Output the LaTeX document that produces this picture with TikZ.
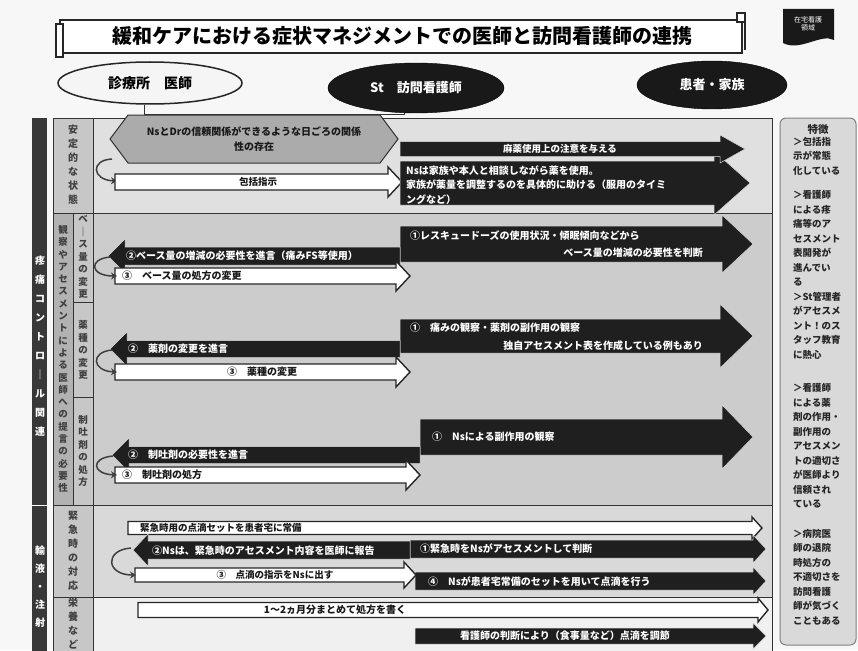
\documentclass[tikz,border=0pt]{standalone}
\usepackage{fontspec}
\setmainfont{Noto Sans CJK JP}
\usetikzlibrary{arrows.meta,shapes.geometric}
% right-pointing arrow: style, tail x, tip x, centre y, shaft half height, head half height, head length
\newcommand\RA[7]{\path[#1] (#2,{#4-#5}) -- ({#3-#7},{#4-#5}) -- ({#3-#7},{#4-#6}) -- (#3,#4) -- ({#3-#7},{#4+#6}) -- ({#3-#7},{#4+#5}) -- (#2,{#4+#5}) -- cycle;}
% left-pointing arrow
\newcommand\LA[7]{\path[#1] (#2,{#4-#5}) -- ({#3+#7},{#4-#5}) -- ({#3+#7},{#4-#6}) -- (#3,#4) -- ({#3+#7},{#4+#6}) -- ({#3+#7},{#4+#5}) -- (#2,{#4+#5}) -- cycle;}
% vertical text
\def\vt#1{\vtA#1\relax}
\def\vtA#1{#1\vtB}
\def\vtB#1{\ifx#1\relax\else\\#1\expandafter\vtB\fi}
\begin{document}
\begin{tikzpicture}[x=1pt,y=-1pt,
  blk/.style={fill=black!88, draw=black!15, line width=0.5pt},
  wht/.style={fill=white, draw=black!85, line width=1.4pt},
  hexs/.style={fill=black!33, draw=black!80, line width=1pt},
  grid/.style={draw=black!80, line width=0.8pt},
  wtxt/.style={text=white, inner sep=0pt, font=\fontsize{10}{14}\selectfont\bfseries},
  btxt/.style={text=black!90, inner sep=0pt, font=\fontsize{10}{14}\selectfont\bfseries},
  vlab/.style={inner sep=0pt, align=center, text=black!75},
  loopst/.style={draw=black!75, line width=1.5pt, -{Stealth[length=6pt,width=7pt]}},
  ovw/.style={ellipse, draw=black!85, line width=1.5pt, fill=black!4, inner sep=0pt, font=\fontsize{14}{16}\selectfont\bfseries},
  ovb/.style={ellipse, draw=black, fill=black!90, text=white, inner sep=0pt, font=\fontsize{13}{15}\selectfont\bfseries}
]
\useasboundingbox (0,0) rectangle (858,650);
\fill[black!3] (0,0) rectangle (858,650);

% ---------- title ----------
\path[fill=white, draw=black!85, line width=1.3pt] (60,20) rectangle (742,53);
\path[fill=white, draw=black!85, line width=1.1pt] (56,24) rectangle (63,57);
\path[fill=white, draw=black!85, line width=1.1pt] (737,13) rectangle (745,22);
\draw[black!85, line width=1.1pt] (745,22) -- (745,50);
\node[inner sep=0pt, font=\fontsize{20}{22}\selectfont\bfseries] (title) at (402,36) {緩和ケアにおける症状マネジメントでの医師と訪問看護師の連携};

% badge
\path[fill=black!90] (783,9) -- (834,9) -- (834,40) .. controls (821,33) and (800,52) .. (783,43) -- cycle;
\node[inner sep=0pt, align=center, text=white, font=\fontsize{7}{8.5}\selectfont] (badge) at (808,24) {在宅看護\\領域};

% ---------- table backgrounds ----------
\fill[black!12] (93,118) rectangle (772,213);
\fill[black!20] (93,213) rectangle (772,505);
\fill[black!15] (93,505) rectangle (772,597);
\fill[black!6] (93,597) rectangle (772,652);
\fill[black!22] (53,118) rectangle (93,652);
\fill[black!30] (53,213) rectangle (73,505);
\fill[black!78] (32,118) rectangle (47,652);
\draw[white, line width=1pt] (32,505) -- (47,505);

\draw[grid] (53,118) rectangle (772,656);
\draw[grid] (93,118) -- (93,656);
\draw[grid] (53,213) -- (772,213);
\draw[grid] (53,505) -- (772,505);
\draw[grid] (53,597) -- (772,597);
\draw[grid] (73,213) -- (73,505);
\draw[grid] (73,302) -- (93,302);
\draw[grid] (73,397) -- (93,397);

% ---------- left labels ----------
\node[vlab, text=white, font=\fontsize{10}{19}\selectfont\bfseries] (cat1) at (40,346) {\vt{疼痛コントロ｜ル関連}};
\node[vlab, text=white, font=\fontsize{10}{18}\selectfont\bfseries] (cat2) at (40,587) {\vt{輸液・注射}};
\node[vlab, font=\fontsize{10}{14}\selectfont\bfseries] (lab1) at (73,165) {\vt{安定的な状態}};
\node[vlab, font=\fontsize{9.5}{12.3}\selectfont\bfseries] (labout) at (63,359) {\vt{観察やアセスメントによる医師への提言の必要性}};
\node[vlab, font=\fontsize{9.5}{12.5}\selectfont\bfseries] (lab2) at (83,257) {\vt{ベ｜ス量の変更}};
\node[vlab, font=\fontsize{9.5}{12.5}\selectfont\bfseries] (lab3) at (83,350) {\vt{薬種の変更}};
\node[vlab, font=\fontsize{9.5}{12.5}\selectfont\bfseries] (lab4) at (83,451) {\vt{制吐剤の処方}};
\node[vlab, font=\fontsize{10}{14}\selectfont\bfseries] (lab5) at (73,551) {\vt{緊急時の対応}};
\node[vlab, font=\fontsize{10}{14}\selectfont\bfseries] (lab6) at (73,624) {\vt{栄養など}};

% ---------- actors ----------
\node[ovw, minimum width=184pt, minimum height=42pt] (dr) at (150,83) {診療所　医師};
\node[ovb, minimum width=176pt, minimum height=50pt] (ns) at (416,88) {St　訪問看護師};
\node[ovb, minimum width=150pt, minimum height=48pt] (pt) at (712,85) {患者・家族};
\draw[black!80, line width=0.8pt] (dr.256) -- ++(0,10) -| (ns.245);

% ---------- row 1 ----------
\path[hexs] (110,139) -- (128,115) -- (380,115) -- (398,139) -- (380,163) -- (128,163) -- cycle;
\node[btxt, align=center, font=\fontsize{10}{15}\selectfont\bfseries] (t1a) at (254,139) {NsとDrの信頼関係ができるような日ごろの関係\\性の存在};
\draw[loopst] (112,159) .. controls (90,160) and (92,180) .. (117,181);
\RA{wht}{115}{402}{182}{8}{15}{14}
\node[btxt, font=\fontsize{9.5}{12}\selectfont\bfseries] (t1b) at (258,182) {包括指示};
\RA{blk}{400}{750}{183}{22}{32}{36}
\RA{blk}{400}{745}{149}{7.5}{14}{25}
\node[wtxt, font=\fontsize{9.5}{12}\selectfont\bfseries] (t1c) at (560,149) {麻薬使用上の注意を与える};
\node[wtxt, anchor=west, align=left, font=\fontsize{10}{14.5}\selectfont\bfseries] (t1d) at (406,185) {Nsは家族や本人と相談しながら薬を使用。\\家族が薬量を調整するのを具体的に助ける（服用のタイミ\\ングなど）};

% ---------- row 2 ----------
\RA{blk}{400}{753}{244}{18}{29}{31}
\LA{blk}{400}{108}{256}{9}{17}{17}
\RA{wht}{115}{410}{276}{8}{15}{14}
\draw[loopst] (110,257) .. controls (88,259) and (90,276) .. (117,276);
\node[wtxt, anchor=west] (t2a) at (410,236) {①レスキュードーズの使用状況・傾眠傾向などから};
\node[wtxt, anchor=east] (t2b) at (703,253) {ベース量の増減の必要性を判断};
\node[wtxt, anchor=west] (t2c) at (126,256) {②ベース量の増減の必要性を進言（痛みFS等使用）};
\node[btxt, anchor=west] (t2d) at (122,276) {③　ベース量の処方の変更};

% ---------- row 3 ----------
\RA{blk}{400}{753}{336}{17}{32}{33}
\LA{blk}{400}{110}{349}{8.5}{17}{17}
\RA{wht}{115}{410}{372}{8}{15}{14}
\draw[loopst] (112,350) .. controls (90,352) and (92,371) .. (117,372);
\node[wtxt, anchor=west] (t3a) at (410,328) {①　痛みの観察・薬剤の副作用の観察};
\node[wtxt, anchor=east] (t3b) at (703,346) {独自アセスメント表を作成している例もあり};
\node[wtxt, anchor=west] (t3c) at (128,349) {②　薬剤の変更を進言};
\node[btxt] (t3d) at (262,372) {③　薬種の変更};

% ---------- row 4 ----------
\RA{blk}{420}{753}{437}{18}{32}{31}
\LA{blk}{420}{112}{455}{8.5}{17}{17}
\RA{wht}{115}{420}{475}{8}{15}{14}
\draw[loopst] (113,456) .. controls (90,458) and (92,474) .. (117,475);
\node[wtxt, anchor=west] (t4a) at (432,437) {①　Nsによる副作用の観察};
\node[wtxt, anchor=west] (t4b) at (128,455) {②　制吐剤の必要性を進言};
\node[btxt, anchor=west] (t4c) at (122,475) {③　制吐剤の処方};

% ---------- row 5 ----------
\RA{wht}{128}{762}{528}{6.5}{11}{10}
\node[btxt, anchor=west, font=\fontsize{9.5}{12}\selectfont\bfseries] (t5a) at (140,528) {緊急時用の点滴セットを患者宅に常備};
\RA{blk}{410}{766}{549}{9}{14}{13}
\LA{blk}{410}{133}{550}{9}{16}{15}
\RA{blk}{415}{766}{581}{9}{14}{13}
\RA{wht}{135}{416}{575}{7}{13}{12}
\draw[loopst] (131,548) .. controls (104,550) and (106,575) .. (136,575);
\node[wtxt, anchor=west] (t5b) at (420,549) {①緊急時をNsがアセスメントして判断};
\node[wtxt, anchor=west] (t5c) at (152,551) {②Nsは、緊急時のアセスメント内容を医師に報告};
\node[btxt, font=\fontsize{9.5}{12}\selectfont\bfseries] (t5d) at (275,575) {③　点滴の指示をNsに出す};
\node[wtxt, anchor=west] (t5e) at (428,582) {④　Nsが患者宅常備のセットを用いて点滴を行う};

% ---------- row 6 ----------
\RA{wht}{138}{768}{610}{7.5}{12}{10}
\RA{blk}{415}{766}{636}{8}{13}{13}
\node[btxt] (t6a) at (335,610) {1～2ヵ月分まとめて処方を書く};
\node[wtxt] (t6b) at (565,636) {看護師の判断により（食事量など）点滴を調節};

% ---------- features ----------
\path[fill=black!15, draw=black!50, line width=1pt, rounded corners=6pt] (780,118) rectangle (856,645);
\node[inner sep=0pt, text=black!85, font=\fontsize{10.5}{12}\selectfont\bfseries] (fh) at (818,130) {特徴};
\node[inner sep=0pt, anchor=north west, align=left, text=black!85, font=\fontsize{9.5}{14.5}\selectfont\bfseries] (fx) at (793,137) {＞包括指\\示が常態\\化している\\[10pt]＞看護師\\による疼\\痛等のア\\セスメント\\表開発が\\進んでい\\る\\＞St管理者\\がアセスメ\\ント！のス\\タッフ教育\\に熱心\\[19pt]＞看護師\\による薬\\剤の作用・\\副作用の\\アセスメン\\トの適切さ\\が医師より\\信頼され\\ている\\[15pt]＞病院医\\師の退院\\時処方の\\不適切さを\\訪問看護\\師が気づく\\こともある};
\end{tikzpicture}
\end{document}
